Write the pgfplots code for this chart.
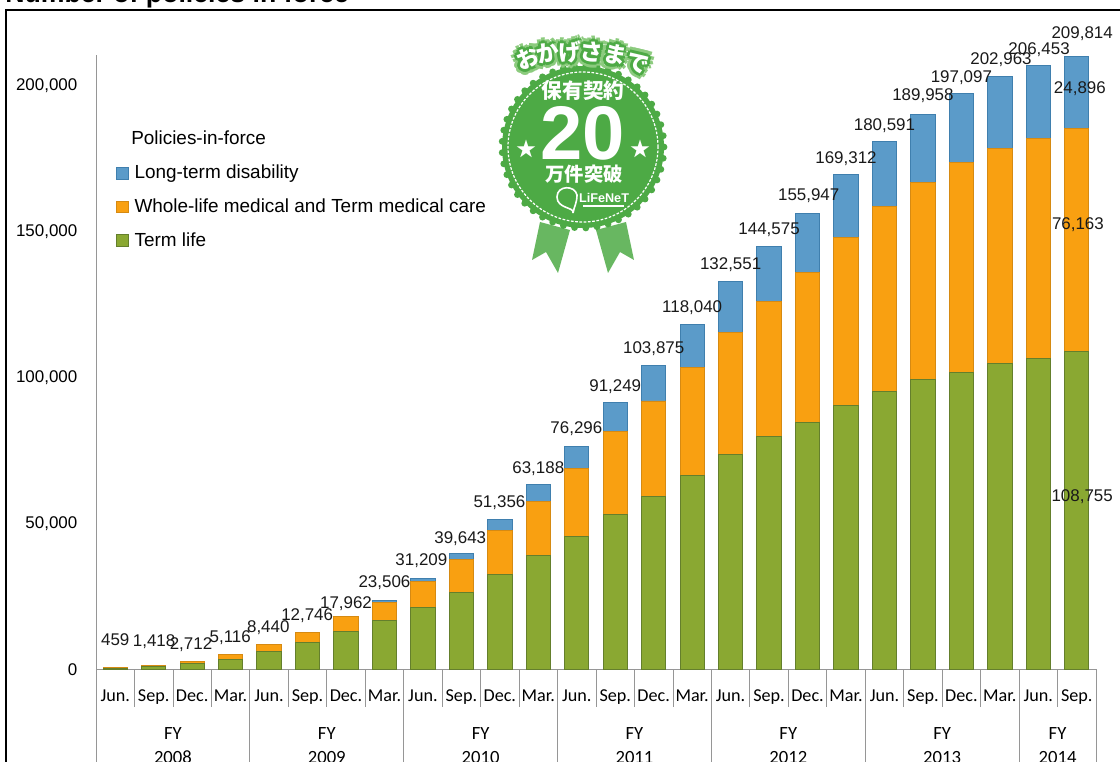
\documentclass[border=0pt]{standalone}
\usepackage{fontspec}
\usepackage{pgfplots}
\usepackage{pgfplotstable}
\pgfplotsset{compat=1.18}
\setmainfont{Liberation Sans}
\newfontfamily\carlito{Carlito}
\newfontfamily\cjk{Noto Sans CJK JP}
\definecolor{bblue}{HTML}{5B9BC9}
\definecolor{bblueD}{HTML}{3F7FAE}
\definecolor{borange}{HTML}{F9A011}
\definecolor{borangeD}{HTML}{D68A12}
\definecolor{bgreen}{HTML}{8AA832}
\definecolor{bgreenD}{HTML}{647F2C}
\definecolor{axisgray}{HTML}{969696}
\definecolor{badge}{HTML}{4DAA45}
\definecolor{badgeL}{HTML}{8CCB7E}
\pgfplotstableread{
x term whole ltd
0 200 259 0
1 1000 418 0
2 2100 612 0
3 3500 1616 0
4 6100 2340 0
5 9100 3646 0
6 13000 4962 0
7 16800 6206 500
8 21200 8800 1209
9 26300 11200 2143
10 32400 15000 3956
11 38900 18400 5888
12 45400 23200 7696
13 52900 28300 10049
14 59000 32800 12075
15 66200 37200 14640
16 73400 42000 17151
17 79500 46400 18675
18 84600 51200 20147
19 90100 57700 21512
20 94900 63500 22191
21 99000 67500 23458
22 101700 71700 23697
23 104500 73700 24763
24 106500 75100 24853
25 108755 76163 24896
}\bars
\pgfplotstableread{
x y l
0 10000 459
1.01 9300 1,418
1.97 8300 2,712
2.99 10700 5,116
3.98 14100 8,440
4.99 18200 12,746
6.0 22600 17,962
7.0 29500 23,506
7.96 37000 31,209
8.97 44800 39,643
9.99 57100 51,356
11.0 68700 63,188
11.99 82400 76,296
13.0 96700 91,249
14.0 109700 103,875
15.0 123700 118,040
16.0 138300 132,551
17.0 150300 144,575
18.03 161900 155,947
19.0 174800 169,312
20.0 186100 180,591
21.0 196300 189,958
22.0 202500 197,097
23.03 208600 202,963
24.02 212000 206,453
25.14 217500 209,814
25.08 198700 24,896
25.03 152000 76,163
25.14 59000 108,755
}\labels
\begin{document}
\begin{tikzpicture}[x=0.75pt,y=0.75pt]
\clip (0,0) rectangle (1120,-762);
\path[use as bounding box] (0,0) rectangle (1120,-762);
\node[anchor=base west,inner sep=0pt,font=\bfseries\fontsize{20}{22}\selectfont] at (5,-3) {Number of policies in force};
\draw[black,line width=1.9pt] (6,-800) -- (6,-10) -- (1130,-10);
% badge
\begin{scope}[shift={(583,-147)}]
 \fill[badge!85!white] (-43,-75) -- (-51,-113) -- (-37,-105) -- (-25,-126) -- (-13,-83) -- cycle;
 \fill[badge!85!white] (43,-75) -- (51,-113) -- (37,-105) -- (25,-126) -- (13,-83) -- cycle;
 \fill[badge] (0,0) circle (81);
 \foreach \a in {0,8,...,352} \fill[badge] (\a:81) circle (3.4);
 \draw[white,line width=0.9pt,dash pattern=on 2pt off 1.2pt] (0,0) circle (75);
 \foreach \c/\px/\py/\r in {お/-55/89/22,か/-35/94/12,げ/-13/95/4,さ/9/95/-5,ま/32/92/-12,で/55/84/-18}{
   \foreach \dx/\dy in {6/0,4.2/4.2,0/6,-4.2/4.2,-6/0,-4.2/-4.2,0/-6,4.2/-4.2}
     \node[text=badgeL,rotate=\r,font=\cjk\bfseries\fontsize{17}{18}\selectfont,inner sep=0pt] at (\px+\dx,\py+\dy) {\c};
   \foreach \dx/\dy in {3/0,2.1/2.1,0/3,-2.1/2.1,-3/0,-2.1/-2.1,0/-3,2.1/-2.1}
     \node[text=badge,rotate=\r,font=\cjk\bfseries\fontsize{17}{18}\selectfont,inner sep=0pt] at (\px+\dx,\py+\dy) {\c};
 }
 \foreach \c/\px/\py/\r in {お/-55/89/22,か/-35/94/12,げ/-13/95/4,さ/9/95/-5,ま/32/92/-12,で/55/84/-18}
   \node[text=white,rotate=\r,font=\cjk\bfseries\fontsize{17}{18}\selectfont,inner sep=0pt] at (\px,\py) {\c};
 \node[text=white,font=\cjk\bfseries\fontsize{15.5}{18}\selectfont,inner sep=0pt] at (0,56) {保有契約};
 \node[text=white,font=\bfseries\fontsize{57}{60}\selectfont,inner sep=0pt] at (0,14) {20};
 \node[text=white,font=\cjk\bfseries\fontsize{14.5}{18}\selectfont,inner sep=0pt] at (1,-27) {万件突破};
 \node[text=white,font=\cjk\fontsize{15}{18}\selectfont,inner sep=0pt] at (-57,-2) {★};
 \node[text=white,font=\cjk\fontsize{15}{18}\selectfont,inner sep=0pt] at (57,-2) {★};
 \node[text=white,font=\bfseries\fontsize{9.5}{10}\selectfont,inner sep=0pt] at (21,-51) {LiFeNeT};
 \draw[white,line width=0.9pt] (0,-59) -- (41,-59);
 \draw[white,line width=1.2pt] (-10,-66) .. controls (-8,-60) and (-26,-62) .. (-26,-50) .. controls (-26,-38) and (-8,-38) .. (-6,-48) .. controls (-6,-56) and (-9,-60) .. (-10,-66);
\end{scope}
% main axis
\begin{axis}[
 at={(72pt,-501.975pt)},anchor=south west,scale only axis,
 width=750pt,height=460.35pt,
 xmin=-0.5,xmax=25.5,ymin=0,ymax=210000,
 ybar stacked,bar width=18.2pt,
 axis lines=left,axis line style={-,draw=axisgray,line width=0.75pt},
 xtick={0,...,25},
 xticklabels={Jun.,Sep.,Dec.,Mar.,Jun.,Sep.,Dec.,Mar.,Jun.,Sep.,Dec.,Mar.,Jun.,Sep.,Dec.,Mar.,Jun.,Sep.,Dec.,Mar.,Jun.,Sep.,Dec.,Mar.,Jun.,Sep.},
 x tick label style={font=\carlito\fontsize{13.6}{15}\selectfont,yshift=-12pt,inner xsep=0pt},
 major x tick style={draw=none},
 minor xtick={-0.5,0.5,...,25.5},
 minor tick length=28pt,
 minor x tick style={draw=axisgray,line width=0.6pt},
 tick align=outside,
 ytick={0,50000,100000,150000,200000},
 yticklabels={0,{50,000},{100,000},{150,000},{200,000}},
 y tick style={draw=none},
 major tick length=0pt,
 y tick label style={font=\fontsize{12.7}{15}\selectfont,xshift=-10.5pt,yshift=-0.6pt},
 scaled y ticks=false,
 clip=false,
 legend style={at={(axis cs:0.02,173450)},anchor=north west,draw=none,fill=none,inner sep=0pt,
   font=\fontsize{14.2}{15}\selectfont,row sep=9.4pt,
   /tikz/every even column/.append style={column sep=3.5pt}},
 legend cell align=left,reverse legend,
 legend image code/.code={\draw[#1,line width=0.5pt] (0cm,-0.16cm) rectangle (0.31cm,0.15cm);\path (0.39cm,0cm);},
]
\addplot[fill=bgreen,draw=bgreenD,line width=0.7pt] table[x=x,y=term]{\bars};
\addplot[fill=borange,draw=borangeD,line width=0.7pt] table[x=x,y=whole]{\bars};
\addplot[fill=bblue,draw=bblueD,line width=0.7pt] table[x=x,y=ltd]{\bars};
\legend{Term life,Whole-life medical and Term medical care,Long-term disability}
\draw[axisgray,line width=0.75pt] (axis cs:-0.5,0) -- (axis cs:-0.5,-40000);
\draw[axisgray,line width=0.75pt] (axis cs:3.5,0) -- (axis cs:3.5,-40000);
\draw[axisgray,line width=0.75pt] (axis cs:7.5,0) -- (axis cs:7.5,-40000);
\draw[axisgray,line width=0.75pt] (axis cs:11.5,0) -- (axis cs:11.5,-40000);
\draw[axisgray,line width=0.75pt] (axis cs:15.5,0) -- (axis cs:15.5,-40000);
\draw[axisgray,line width=0.75pt] (axis cs:19.5,0) -- (axis cs:19.5,-40000);
\draw[axisgray,line width=0.75pt] (axis cs:23.5,0) -- (axis cs:23.5,-40000);
\draw[axisgray,line width=0.75pt] (axis cs:25.5,0) -- (axis cs:25.5,-40000);
\node[font=\carlito\fontsize{14}{16}\selectfont,align=center,anchor=north,inner sep=0pt] at (axis cs:1.5,-19750) {FY\\[2.2pt]2008};
\node[font=\carlito\fontsize{14}{16}\selectfont,align=center,anchor=north,inner sep=0pt] at (axis cs:5.5,-19750) {FY\\[2.2pt]2009};
\node[font=\carlito\fontsize{14}{16}\selectfont,align=center,anchor=north,inner sep=0pt] at (axis cs:9.5,-19750) {FY\\[2.2pt]2010};
\node[font=\carlito\fontsize{14}{16}\selectfont,align=center,anchor=north,inner sep=0pt] at (axis cs:13.5,-19750) {FY\\[2.2pt]2011};
\node[font=\carlito\fontsize{14}{16}\selectfont,align=center,anchor=north,inner sep=0pt] at (axis cs:17.5,-19750) {FY\\[2.2pt]2012};
\node[font=\carlito\fontsize{14}{16}\selectfont,align=center,anchor=north,inner sep=0pt] at (axis cs:21.5,-19750) {FY\\[2.2pt]2013};
\node[font=\carlito\fontsize{14}{16}\selectfont,align=center,anchor=north,inner sep=0pt] at (axis cs:24.5,-19750) {FY\\[2.2pt]2014};
\end{axis}
% labels
\begin{axis}[
 at={(72pt,-501.975pt)},anchor=south west,scale only axis,
 width=750pt,height=460.35pt,
 xmin=-0.5,xmax=25.5,ymin=0,ymax=210000,hide axis,clip=false,
]
\addplot[draw=none,mark=none,nodes near coords={\pgfplotspointmeta},point meta=explicit symbolic,
 nodes near coords style={anchor=center,inner sep=0pt,font=\fontsize{12.7}{15}\selectfont,text=black!90}]
 table[x=x,y=y,meta=l]{\labels};
\end{axis}
\node[anchor=west,inner sep=0pt,font=\fontsize{14.2}{15}\selectfont] at (131,-138) {Policies-in-force};
\end{tikzpicture}
\end{document}
